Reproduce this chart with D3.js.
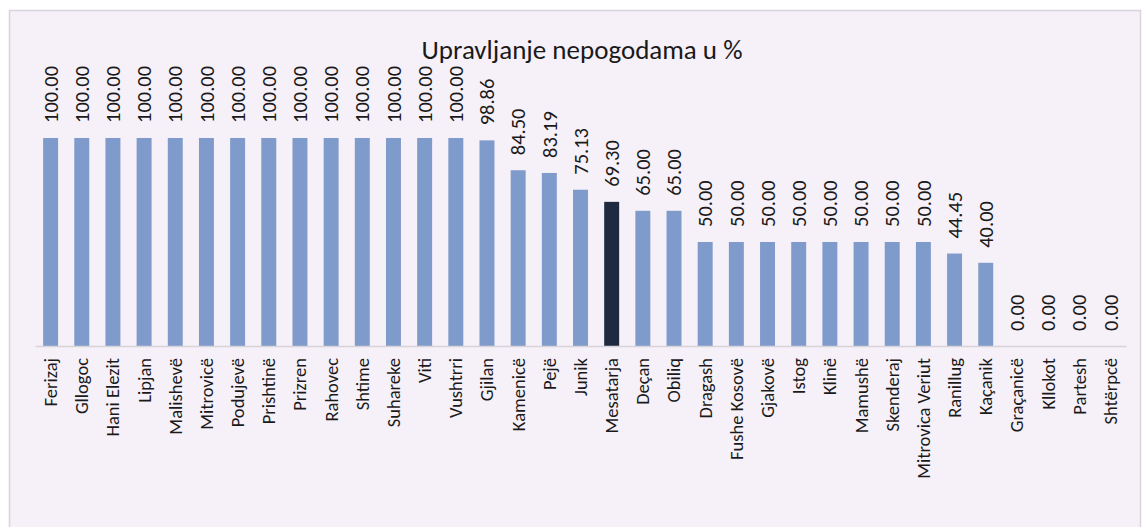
<!DOCTYPE html>
<html><head><meta charset="utf-8">
<script src="https://cdn.jsdelivr.net/npm/d3@7"></script>
<style>html,body{margin:0;padding:0;background:#fff;}svg{display:block;}</style>
</head><body>
<svg id="chart" width="1146" height="527"></svg>
<script>
const titleText = "Upravljanje nepogodama u %";
const categories = ["Ferizaj","Gllogoc","Hani Elezit","Lipjan","Malishevë","Mitrovicë","Podujevë","Prishtinë","Prizren","Rahovec","Shtime","Suhareke","Viti","Vushtrri","Gjilan","Kamenicë","Pejë","Junik","Mesatarja","Deçan","Obiliq","Dragash","Fushe Kosovë","Gjakovë","Istog","Klinë","Mamushë","Skenderaj","Mitrovica Veriut","Ranillug","Kaçanik","Graçanicë","Kllokot","Partesh","Shtërpcë"];
const values = [100,100,100,100,100,100,100,100,100,100,100,100,100,100,98.86,84.50,83.19,75.13,69.30,65.00,65.00,50.00,50.00,50.00,50.00,50.00,50.00,50.00,50.00,44.45,40.00,0,0,0,0];
const highlight = ["Mesatarja"];

const svg = d3.select("#chart");
const font = "Carlito, 'Open Sans', sans-serif";

svg.append("rect").attr("x",0).attr("y",0).attr("width",1146).attr("height",527).attr("fill","#ffffff");
svg.append("rect").attr("x",9.5).attr("y",10.5).attr("width",1131).attr("height",530)
  .attr("fill","#f6f0f8").attr("stroke","#d8d4dc").attr("stroke-width",1.5);

const x = d3.scaleBand().domain(categories).range([35,1126]).paddingInner(0.52).paddingOuter(0.26);
const y = d3.scaleLinear().domain([0,100]).range([346,138]);

svg.append("text").attr("x",582).attr("y",59).attr("text-anchor","middle")
  .attr("font-family",font).attr("font-size",27).attr("fill","#1a1a1a").text(titleText);

svg.selectAll("rect.bar").data(categories).join("rect").attr("class","bar")
  .attr("x",d=>x(d)).attr("width",x.bandwidth())
  .attr("y",(d,i)=>y(values[i])).attr("height",(d,i)=>y(0)-y(values[i]))
  .attr("fill",d=>highlight.includes(d)?"#1e2a40":"#7f9bcb");

const xAxis = svg.append("g").attr("transform",`translate(0,${y(0)})`)
  .call(d3.axisBottom(x).tickSize(0).tickPadding(0));
xAxis.select(".domain").attr("stroke","#d6d3d9").attr("stroke-width",1.5);
xAxis.selectAll(".tick text").attr("font-family",font).attr("font-size",18.5).attr("fill","#1a1a1a")
  .attr("transform","rotate(-90)").attr("text-anchor","end").attr("x",-12).attr("y",0).attr("dy","0.35em");

svg.selectAll("text.lbl").data(categories).join("text").attr("class","lbl")
  .attr("transform",(d,i)=>`translate(${x(d)+x.bandwidth()/2},${y(values[i])-15}) rotate(-90)`)
  .attr("dy","0.35em").attr("text-anchor","start")
  .attr("font-family",font).attr("font-size",20.5).attr("fill","#1a1a1a")
  .text((d,i)=>d3.format(".2f")(values[i]));
</script>
</body></html>
